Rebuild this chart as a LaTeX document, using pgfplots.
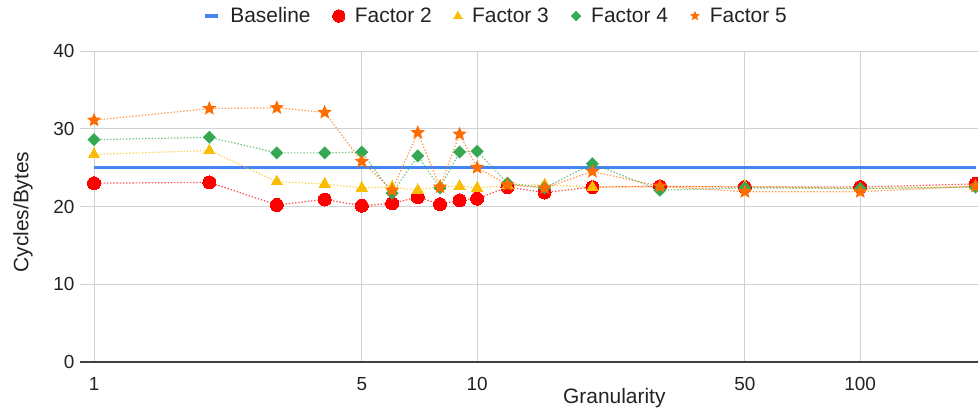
\documentclass[border=0pt]{standalone}
\usepackage{pgfplots}
\pgfplotsset{compat=1.18}
\usepackage{pgfplotstable}
\usepackage{fontspec}
\setmainfont{Liberation Sans}
\definecolor{cblue}{HTML}{4285F4}
\definecolor{cred}{HTML}{FF0000}
\definecolor{cyel}{HTML}{FBBC04}
\definecolor{cgreen}{HTML}{34A853}
\definecolor{corange}{HTML}{FF6D01}
\definecolor{ctext}{HTML}{222222}
\pgfdeclareplotmark{fstar}{%
 \pgfpathmoveto{\pgfpointpolar{90}{\pgfplotmarksize}}%
 \pgfpathlineto{\pgfpointpolar{126}{0.45\pgfplotmarksize}}%
 \pgfpathlineto{\pgfpointpolar{162}{\pgfplotmarksize}}%
 \pgfpathlineto{\pgfpointpolar{198}{0.45\pgfplotmarksize}}%
 \pgfpathlineto{\pgfpointpolar{234}{\pgfplotmarksize}}%
 \pgfpathlineto{\pgfpointpolar{270}{0.45\pgfplotmarksize}}%
 \pgfpathlineto{\pgfpointpolar{306}{\pgfplotmarksize}}%
 \pgfpathlineto{\pgfpointpolar{342}{0.45\pgfplotmarksize}}%
 \pgfpathlineto{\pgfpointpolar{18}{\pgfplotmarksize}}%
 \pgfpathlineto{\pgfpointpolar{54}{0.45\pgfplotmarksize}}%
 \pgfpathclose\pgfusepathqfill}
\pgfdeclareplotmark{fdiamond}{%
 \pgfpathmoveto{\pgfqpoint{0pt}{\pgfplotmarksize}}%
 \pgfpathlineto{\pgfqpoint{\pgfplotmarksize}{0pt}}%
 \pgfpathlineto{\pgfqpoint{0pt}{-\pgfplotmarksize}}%
 \pgfpathlineto{\pgfqpoint{-\pgfplotmarksize}{0pt}}%
 \pgfpathclose\pgfusepathqfill}
\pgfplotstableread{
x F2 F3 F4 F5
1 23.0 26.7 28.6 31.1
2 23.1 27.2 28.9 32.6
3 20.2 23.2 26.9 32.7
4 20.9 22.9 26.9 32.1
5 20.1 22.4 27.0 25.8
6 20.4 22.5 21.7 22.1
7 21.2 22.1 26.5 29.5
8 20.3 22.6 22.4 22.5
9 20.8 22.6 27.0 29.3
10 21.0 22.4 27.1 25.0
12 22.5 22.7 23.0 22.8
15 21.8 22.8 22.4 22.4
20 22.5 22.5 25.5 24.5
30 22.6 22.5 22.1 22.6
50 22.5 22.6 22.4 21.9
100 22.5 22.3 22.3 21.9
200 22.9 22.6 22.5 22.6
}\data
\pgfplotstableread{
x y
1 25
200 25
}\base
\begin{document}
\begin{tikzpicture}
\useasboundingbox (-80bp,-54bp) rectangle (898bp,362bp);
\begin{axis}[
  at={(0,0)}, anchor=south west,
  scale only axis, width=898bp, height=311bp,
  xmode=log, log basis x=10,
  xmin=0.919, xmax=203, ymin=0, ymax=40,
  xtick={1,5,10,50,100}, xticklabels={1,5,10,50,100},
  ytick={0,10,20,30,40},
  /pgf/number format/assume math mode=true,
  minor xtick={},
  xminorgrids=false,
  grid=major,
  major grid style={draw=black!18, line width=0.9bp},
  axis x line*=bottom, axis y line*=left,
  x axis line style={draw=black!75, line width=1.2bp},
  y axis line style={draw=none},
  major tick length=0pt, minor tick length=0pt,
  tick label style={font=\fontsize{19}{22}\selectfont, text=ctext},
  xticklabel style={anchor=base, yshift=-28.5bp},
  yticklabel style={anchor=east, xshift=-2bp},
  xlabel={Granularity}, ylabel={Cycles/Bytes},
  label style={font=\fontsize{21}{24}\selectfont, text=ctext},
  xlabel style={at={(axis description cs:0.595,0)}, anchor=base, yshift=-41bp},
  ylabel style={at={(axis description cs:0,0.482)}, anchor=center, yshift=57bp},
  clip=false,
  legend style={at={(rel axis cs:0.463,1.1125)}, anchor=center, draw=none, fill=none,
    legend columns=-1, font=\fontsize{21}{24}\selectfont, text=ctext,
    /tikz/every even column/.append style={column sep=20bp},
    /tikz/every odd column/.append style={column sep=8bp},
    inner sep=0pt},
  legend cell align=left,
]
\addplot[cblue, line width=2.4bp,
  legend image code/.code={\draw[cblue, line width=4.5bp] (0bp,0bp) -- (13bp,0bp);}] table[x=x,y=y]{\base};
\addlegendentry{Baseline}
\addplot[cred, line width=1.2bp, dash pattern=on 1.4bp off 1.8bp, opacity=0.7, forget plot] table[x=x,y=F2]{\data};
\addplot[cyel, line width=1.2bp, dash pattern=on 1.4bp off 1.8bp, opacity=0.7, forget plot] table[x=x,y=F3]{\data};
\addplot[cgreen, line width=1.2bp, dash pattern=on 1.4bp off 1.8bp, opacity=0.7, forget plot] table[x=x,y=F4]{\data};
\addplot[corange, line width=1.2bp, dash pattern=on 1.4bp off 1.8bp, opacity=0.7, forget plot] table[x=x,y=F5]{\data};
\addplot[cred, only marks, mark=*, mark size=6.5bp, mark options={draw=cred, fill=cred, line width=0pt},
  legend image post style={scale=0.95}] table[x=x,y=F2]{\data};
\addlegendentry{Factor 2}
\addplot[cyel, only marks, mark=triangle*, mark size=6.5bp, mark options={draw=cyel, fill=cyel, line width=0pt},
  legend image post style={scale=0.75}] table[x=x,y=F3]{\data};
\addlegendentry{Factor 3}
\addplot[cgreen, only marks, mark=fdiamond, mark size=6.5bp, mark options={draw=cgreen, fill=cgreen},
  legend image post style={scale=0.8}] table[x=x,y=F4]{\data};
\addlegendentry{Factor 4}
\addplot[corange, only marks, mark=fstar, mark size=7.5bp, mark options={draw=corange, fill=corange},
  legend image post style={scale=0.7}] table[x=x,y=F5]{\data};
\addlegendentry{Factor 5}
\end{axis}
\end{tikzpicture}
\end{document}
